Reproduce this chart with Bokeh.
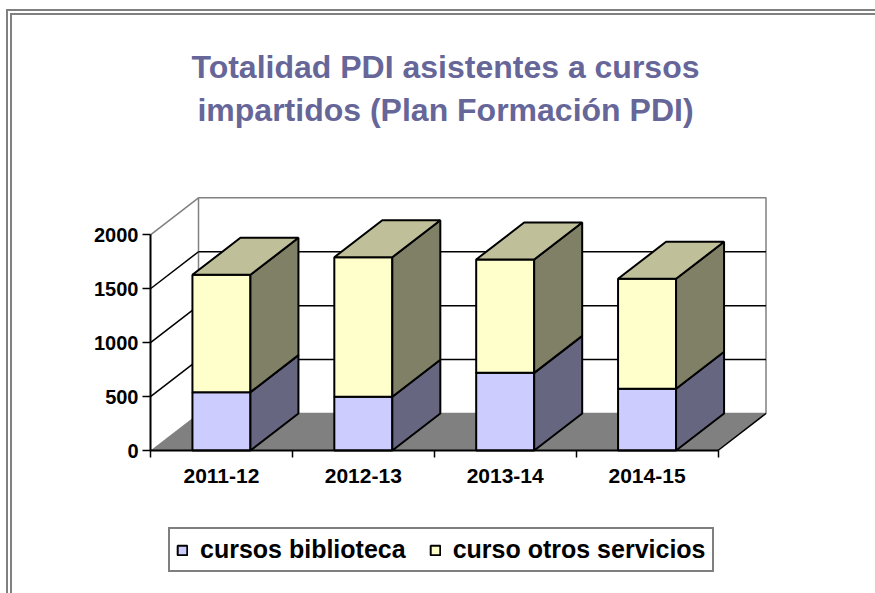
from bokeh.plotting import figure
from bokeh.models import ColumnDataSource, FixedTicker, Label, Range1d
from bokeh.embed import file_html
from bokeh.resources import INLINE

# ---------------- data ----------------
categories = ["2011-12", "2012-13", "2013-14", "2014-15"]
biblioteca = [541, 498, 720, 572]
otros_servicios = [1088, 1294, 1051, 1020]
series_names = ["cursos biblioteca", "curso otros servicios"]
y_ticks = [0, 500, 1000, 1500, 2000]
title_lines = ["Totalidad PDI asistentes a cursos", "impartidos (Plan Formación PDI)"]

# ---------------- style / layout ----------------
W, H = 875, 593
FONT = "Liberation Sans"
front_colors = ["#CCCCFF", "#FFFFCC"]
side_colors = ["#666680", "#808066"]
top_colors = ["#9999BF", "#BFBF99"]
TITLE_COLOR = "#666699"

AX_LEFT_PX, AX_RIGHT_PX = 150.0, 717.5
AX_ZERO_PX, AX_TOP_PX = 450.0, 234.3
Y_MAX = y_ticks[-1]
N = len(categories)
px_per_cat = (AX_RIGHT_PX - AX_LEFT_PX) / N
px_per_val = (AX_ZERO_PX - AX_TOP_PX) / Y_MAX


def sx(px):
    return (px - AX_LEFT_PX) / px_per_cat


def sy(py):
    return (AX_ZERO_PX - py) / px_per_val


DX = 48 / px_per_cat      # depth offset (x)
DY = 37 / px_per_val      # depth offset (y)
BAR_W = 58 / px_per_cat

p = figure(width=W, height=H,
           x_range=Range1d(sx(0), sx(W)), y_range=Range1d(sy(H), sy(0)),
           output_backend="svg", toolbar_location=None, min_border=0)
p.outline_line_color = None
p.grid.visible = False
p.background_fill_color = "white"
p.border_fill_color = "white"

# ---------------- chart frame (double grey line, running off the page) ----------------
offs = [6.5, 10.5]
p.segment(x0=[sx(o) for o in offs], y0=[sy(o + 3) for o in offs],
          x1=[sx(W + 200)] * 2, y1=[sy(o + 3) for o in offs],
          line_color="#808080", line_width=2)
p.segment(x0=[sx(o) for o in offs], y0=[sy(o + 3 - 1) for o in offs],
          x1=[sx(o) for o in offs], y1=[sy(H + 200)] * 2,
          line_color="#808080", line_width=2)

# ---------------- floor & walls ----------------
p.patch([0, N, N + DX, DX], [0, 0, DY, DY], fill_color="#808080", line_color=None)
p.patch([DX, N + DX, N + DX, DX], [DY, DY, Y_MAX + DY, Y_MAX + DY],
        fill_color="white", line_color="#808080", line_width=1.5)
p.line([N, N + DX], [0, DY], line_color="black", line_width=1.5)

inner = y_ticks[1:-1]
p.multi_line([[DX, N + DX] for _ in inner], [[v + DY, v + DY] for v in inner],
             line_color="black", line_width=1.5)
p.multi_line([[0, DX] for _ in inner], [[v, v + DY] for v in inner],
             line_color="black", line_width=1.5)
p.line([0, DX], [Y_MAX, Y_MAX + DY], line_color="#808080", line_width=1.5)

# ---------------- bars ----------------
x_centers = [i + 0.5 for i in range(N)]
src = ColumnDataSource(dict(x=x_centers, bib=biblioteca, otr=otros_servicios))
p.vbar_stack(["bib", "otr"], x="x", width=BAR_W, source=src, fill_color=front_colors,
             line_color="black", line_width=2, legend_label=series_names)

side_xs, side_ys, side_fc = [], [], []
top_xs, top_ys, top_fc = [], [], []
base = [0] * N
series = [biblioteca, otros_servicios]
for s, vals in enumerate(series):
    for i, v in enumerate(vals):
        y0, y1 = base[i], base[i] + v
        xl, xr = x_centers[i] - BAR_W / 2, x_centers[i] + BAR_W / 2
        side_xs.append([xr, xr + DX, xr + DX, xr])
        side_ys.append([y0, y0 + DY, y1 + DY, y1])
        side_fc.append(side_colors[s])
        if s == len(series) - 1:
            top_xs.append([xl, xl + DX, xr + DX, xr])
            top_ys.append([y1, y1 + DY, y1 + DY, y1])
            top_fc.append(top_colors[s])
        base[i] = y1
p.patches(side_xs, side_ys, fill_color=side_fc, line_color="black", line_width=2)
p.patches(top_xs, top_ys, fill_color=top_fc, line_color="black", line_width=2)

# ---------------- axes ----------------
ya = p.yaxis[0]
ya.fixed_location = 0
ya.ticker = FixedTicker(ticks=y_ticks)
ya.bounds = (0, Y_MAX)
ya.axis_line_width = 2
ya.axis_line_color = "black"
ya.major_tick_out = 8
ya.major_tick_in = 0
ya.major_tick_line_width = 1.5
ya.minor_tick_line_color = None
ya.major_label_text_font = FONT
ya.major_label_text_font_style = "bold"
ya.major_label_text_font_size = "20px"
ya.major_label_text_color = "black"
ya.major_label_standoff = 4

xa = p.xaxis[0]
xa.fixed_location = 0
xa.ticker = FixedTicker(ticks=x_centers, minor_ticks=list(range(N + 1)))
xa.major_label_overrides = {x: c for x, c in zip(x_centers, categories)}
xa.bounds = (0, N)
xa.axis_line_width = 2
xa.axis_line_color = "black"
xa.major_tick_line_color = None
xa.major_tick_out = 0
xa.major_tick_in = 0
xa.minor_tick_out = 7
xa.minor_tick_in = 0
xa.minor_tick_line_color = "black"
xa.minor_tick_line_width = 1.5
xa.major_label_text_font = FONT
xa.major_label_text_font_style = "bold"
xa.major_label_text_font_size = "21px"
xa.major_label_text_color = "black"
xa.major_label_standoff = 11

# ---------------- title ----------------
for txt, base_px in zip(title_lines, (66, 109)):
    p.add_layout(Label(x=sx(445), y=sy(base_px), text=txt, text_align="center",
                       text_baseline="alphabetic", text_font=FONT, text_font_style="bold",
                       text_font_size="32px", text_color=TITLE_COLOR))

# ---------------- legend ----------------
lg = p.legend[0]
lg.orientation = "horizontal"
lg.location = (168, H - 572)
lg.margin = 0
lg.padding = 6
lg.spacing = 23
lg.label_standoff = 12
lg.glyph_width = 12
lg.glyph_height = 12
lg.label_text_font = FONT
lg.label_text_font_style = "bold"
lg.label_text_font_size = "25px"
lg.label_text_color = "black"
lg.border_line_color = "black"
lg.border_line_width = 2
lg.background_fill_color = "white"
lg.background_fill_alpha = 1

open("out.html", "w").write(file_html(p, INLINE))
